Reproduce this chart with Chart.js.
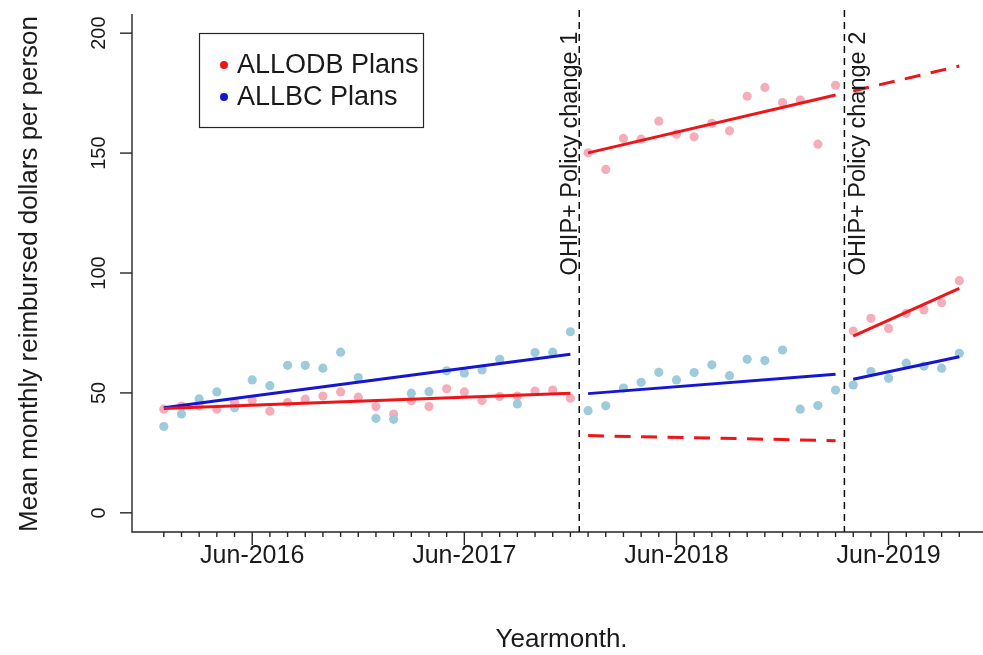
<!DOCTYPE html>
<html>
<head>
<meta charset="utf-8">
<script src="https://cdn.jsdelivr.net/npm/chart.js@4.4.1/dist/chart.umd.min.js"></script>
<style>
  html, body { margin: 0; padding: 0; background: #ffffff; }
  #wrap { width: 983px; height: 655px; position: relative; }
</style>
</head>
<body>
<div id="wrap"><canvas id="chart"></canvas></div>
<script>
// Monthly categories, Jan-2016 .. Oct-2019
const months = [
  'Jan-2016','Feb-2016','Mar-2016','Apr-2016','May-2016','Jun-2016','Jul-2016','Aug-2016','Sep-2016','Oct-2016','Nov-2016','Dec-2016',
  'Jan-2017','Feb-2017','Mar-2017','Apr-2017','May-2017','Jun-2017','Jul-2017','Aug-2017','Sep-2017','Oct-2017','Nov-2017','Dec-2017',
  'Jan-2018','Feb-2018','Mar-2018','Apr-2018','May-2018','Jun-2018','Jul-2018','Aug-2018','Sep-2018','Oct-2018','Nov-2018','Dec-2018',
  'Jan-2019','Feb-2019','Mar-2019','Apr-2019','May-2019','Jun-2019','Jul-2019','Aug-2019','Sep-2019','Oct-2019'
];

// Mean monthly reimbursed dollars per person
const odbValues = [
  43.2, 44.5, 44.6, 43.2, 46.0, 46.8, 42.4, 46.0, 47.4, 48.7, 50.4, 48.2,
  44.3, 41.2, 46.7, 44.3, 51.7, 50.4, 46.8, 48.5, 48.7, 50.8, 51.2, 47.8,
  150.1, 143.2, 156.1, 155.8, 163.3, 157.9, 156.8, 162.4, 159.3, 173.7, 177.4, 171.1,
  172.1, 153.7, 178.3, 75.8, 81.1, 76.9, 83.2, 84.6, 87.6, 96.8
];
const bcValues = [
  36.0, 41.2, 47.5, 50.4, 43.8, 55.4, 53.0, 61.5, 61.5, 60.3, 67.0, 56.4,
  39.4, 39.0, 49.9, 50.5, 59.2, 58.2, 59.6, 64.0, 45.4, 66.8, 67.0, 75.5,
  42.6, 44.6, 52.0, 54.4, 58.6, 55.4, 58.5, 61.7, 57.2, 64.0, 63.5, 67.9,
  43.2, 44.7, 51.2, 53.3, 58.9, 56.1, 62.4, 61.2, 60.3, 66.5
];

// Segment trends (start month, end month) and their fitted values
const period1 = ['Jan-2016', 'Dec-2017'];
const period2 = ['Jan-2018', 'Mar-2019'];
const period3 = ['Apr-2019', 'Oct-2019'];
const odbTrend1 = [43.5, 49.9];
const bcTrend1 = [43.8, 66.1];
const odbTrend2 = [150.1, 174.2];
const bcTrend2 = [49.7, 57.8];
const odbNoChange2 = [32.2, 30.1];
const odbTrend3 = [73.7, 93.6];
const bcTrend3 = [55.7, 65.1];
const odbNoChange3 = [175.9, 186.3];

// Axis ticks and annotations
const yTicks = [0, 50, 100, 150, 200];
const xTickLabels = ['Jun-2016', 'Jun-2017', 'Jun-2018', 'Jun-2019'];
const policyBreaks = [23.5, 38.5];
const policyLabels = ['OHIP+ Policy change 1', 'OHIP+ Policy change 2'];
const legendLabels = ['ALLODB Plans', 'ALLBC Plans'];

const FONT = '"Liberation Sans", Arial, Helvetica, sans-serif';
const PINK = '#f4aebb';
const LIGHTBLUE = '#9ecbdb';
const RED = '#ee1418';
const BLUE = '#1616d0';

const idx = m => months.indexOf(m);
const pts = vals => vals.map((v, i) => ({ x: i, y: v }));
const seg = (period, vals) => [{ x: idx(period[0]), y: vals[0] }, { x: idx(period[1]), y: vals[1] }];

function lineSet(data, color, dashed) {
  return {
    type: 'line', data, borderColor: color, borderWidth: 3,
    borderDash: dashed ? [16, 10.5] : [], pointRadius: 0, fill: false,
    tension: 0, order: 0, borderCapStyle: 'butt'
  };
}

const axesPlugin = {
  id: 'rAxes',
  afterDraw(chart) {
    const { ctx, chartArea: a, scales: { x, y } } = chart;
    ctx.save();
    // L-shaped frame
    ctx.strokeStyle = '#262626';
    ctx.lineWidth = 1.4;
    ctx.beginPath();
    ctx.moveTo(a.left, a.top);
    ctx.lineTo(a.left, a.bottom);
    ctx.lineTo(chart.width, a.bottom);
    ctx.stroke();

    // y ticks and rotated labels
    ctx.fillStyle = '#1a1a1a';
    ctx.font = '20px ' + FONT;
    yTicks.forEach(v => {
      const py = y.getPixelForValue(v);
      ctx.beginPath();
      ctx.moveTo(a.left, py);
      ctx.lineTo(a.left - 12, py);
      ctx.stroke();
      ctx.save();
      ctx.translate(a.left - 23, py);
      ctx.rotate(-Math.PI / 2);
      ctx.textAlign = 'center';
      ctx.textBaseline = 'bottom';
      ctx.fillText(String(v), 0, 0);
      ctx.restore();
    });

    // x ticks: one per month, longer at June
    ctx.font = '25px ' + FONT;
    months.forEach((m, i) => {
      const px = x.getPixelForValue(i);
      const major = xTickLabels.includes(m);
      ctx.beginPath();
      ctx.moveTo(px, a.bottom);
      ctx.lineTo(px, a.bottom + (major ? 13 : 5));
      ctx.stroke();
      if (major) {
        ctx.textAlign = 'center';
        ctx.textBaseline = 'middle';
        ctx.fillText(m, px, a.bottom + 24);
      }
    });

    // axis titles
    ctx.font = '26px ' + FONT;
    ctx.textAlign = 'center';
    ctx.textBaseline = 'middle';
    ctx.fillText('Yearmonth.', x.getPixelForValue(22.5), 640);
    ctx.save();
    ctx.translate(30, (a.top + a.bottom) / 2 + 1);
    ctx.rotate(-Math.PI / 2);
    ctx.fillText('Mean monthly reimbursed dollars per person', 0, 0);
    ctx.restore();

    // policy change markers
    ctx.strokeStyle = '#111111';
    ctx.lineWidth = 1.5;
    ctx.setLineDash([7, 5]);
    policyBreaks.forEach(b => {
      const px = x.getPixelForValue(b);
      ctx.beginPath();
      ctx.moveTo(px, a.top - 4);
      ctx.lineTo(px, a.bottom);
      ctx.stroke();
    });
    ctx.setLineDash([]);
    ctx.font = '23.5px ' + FONT;
    ctx.textAlign = 'left';
    ctx.textBaseline = 'alphabetic';
    policyBreaks.forEach((b, k) => {
      const px = x.getPixelForValue(b) + (k === 0 ? -2 : 21);
      ctx.save();
      ctx.translate(px, y.getPixelForValue(99));
      ctx.rotate(-Math.PI / 2);
      ctx.fillText(policyLabels[k], 0, 0);
      ctx.restore();
    });

    // legend box
    ctx.strokeStyle = '#262626';
    ctx.lineWidth = 1.2;
    ctx.strokeRect(199.5, 33.5, 224, 94);
    ctx.font = '27px ' + FONT;
    ctx.textBaseline = 'middle';
    [RED, BLUE].forEach((c, k) => {
      const cy = 65 + k * 32;
      ctx.fillStyle = c;
      ctx.beginPath();
      ctx.arc(224, cy, 4, 0, Math.PI * 2);
      ctx.fill();
      ctx.fillStyle = '#1a1a1a';
      ctx.fillText(legendLabels[k], 237, cy + 1);
    });
    ctx.restore();
  }
};

new Chart(document.getElementById('chart'), {
  type: 'scatter',
  data: {
    datasets: [
      lineSet(seg(period1, odbTrend1), RED),
      lineSet(seg(period1, bcTrend1), BLUE),
      lineSet(seg(period2, odbTrend2), RED),
      lineSet(seg(period2, bcTrend2), BLUE),
      lineSet(seg(period2, odbNoChange2), RED, true),
      lineSet(seg(period3, odbTrend3), RED),
      lineSet(seg(period3, bcTrend3), BLUE),
      lineSet(seg(period3, odbNoChange3), RED, true),
      { label: 'ALLBC', data: pts(bcValues), backgroundColor: LIGHTBLUE, borderWidth: 0, pointRadius: 4.6, order: 1 },
      { label: 'ALLODB', data: pts(odbValues), backgroundColor: PINK, borderWidth: 0, pointRadius: 4.6, order: 2 }
    ]
  },
  options: {
    responsive: true,
    maintainAspectRatio: false,
    animation: false,
    layout: { padding: { left: 132, right: 0, top: 14, bottom: 123 } },
    plugins: { legend: { display: false }, tooltip: { enabled: false }, title: { display: false } },
    scales: {
      x: { type: 'linear', min: -1.8, max: 46.08, display: false },
      y: { type: 'linear', min: -8, max: 208, display: false }
    }
  },
  plugins: [axesPlugin]
});
</script>
</body>
</html>
